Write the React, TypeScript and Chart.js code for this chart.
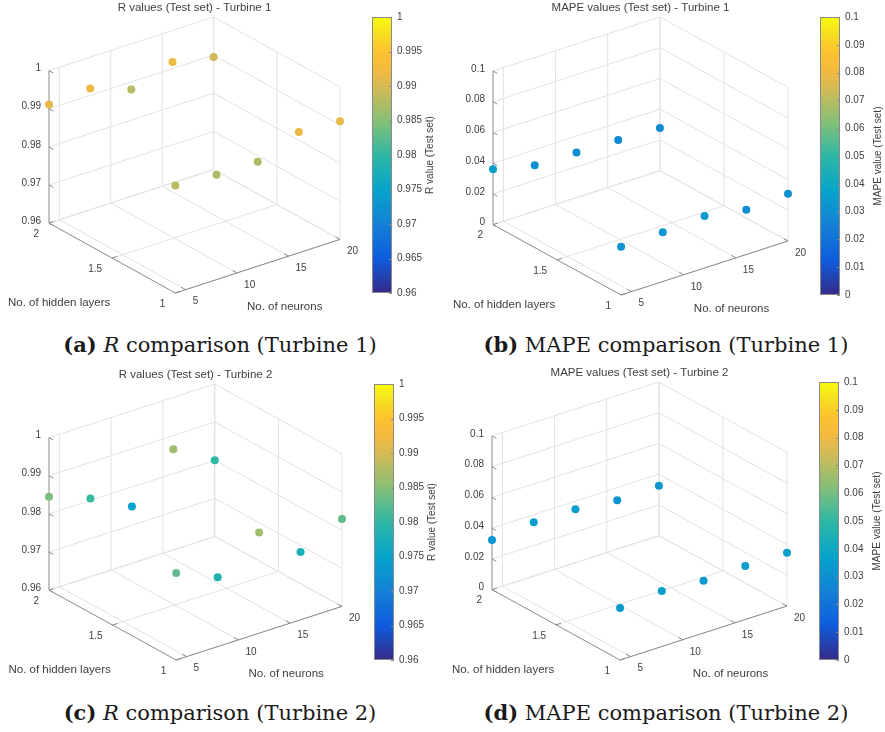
import React, { useEffect, useRef } from "react";
import { Chart, registerables } from "chart.js";

Chart.register(...registerables);

// Network configurations
const neurons = [4, 8, 12, 16, 20];
const hiddenLayers = [1, 2];

// Turbine 1 test-set results (one entry per neuron count)
const rT1OneLayer = [0.9882, 0.9875, 0.9874, 0.9917, 0.991];
const rT1TwoLayers = [0.9911, 0.9918, 0.988, 0.9917, 0.9895];
const mapeT1OneLayer = [0.0314, 0.0321, 0.0339, 0.0291, 0.0307];
const mapeT1TwoLayers = [0.0361, 0.0299, 0.0293, 0.0287, 0.0277];

// Turbine 2 test-set results
const rT2OneLayer = [0.9828, 0.9782, 0.9864, 0.9778, 0.9829];
const rT2TwoLayers = [0.9845, 0.9805, 0.9749, 0.9864, 0.98];
const mapeT2OneLayer = [0.0338, 0.0362, 0.034, 0.0348, 0.0347];
const mapeT2TwoLayers = [0.0323, 0.0351, 0.0348, 0.0318, 0.0324];

// Axis ranges and ticks
const neuronRange = [4, 20];
const layerRange = [1, 2];
const rRange = [0.96, 1];
const mapeRange = [0, 0.1];
const neuronTicks = [5, 10, 15, 20];
const layerTicks = [1, 1.5, 2];
const rTicks = [0.96, 0.97, 0.98, 0.99, 1];
const mapeTicks = [0, 0.02, 0.04, 0.06, 0.08, 0.1];
const rColorbarTicks = [0.96, 0.965, 0.97, 0.975, 0.98, 0.985, 0.99, 0.995, 1];
const mapeColorbarTicks = [0, 0.01, 0.02, 0.03, 0.04, 0.05, 0.06, 0.07, 0.08, 0.09, 0.1];

// parula colormap stops: [position, colour]
const parulaStops: [number, string][] = [
  [0, "#352a87"],
  [0.125, "#0f5cdd"],
  [0.25, "#1481d6"],
  [0.375, "#06a4ca"],
  [0.5, "#2eb7a4"],
  [0.625, "#87bf77"],
  [0.75, "#d7ba54"],
  [0.8125, "#f4ba3e"],
  [0.875, "#fdc230"],
  [0.9375, "#f5de20"],
  [1, "#f9fb0e"],
];

const SANS = '"Liberation Sans", Arial, sans-serif';
const TEXT = "#404040";
const GRID = "#e2e2e2";
const AXIS = "#8a8a8a";

const AZ = (37.5 * Math.PI) / 180;
const EL = (30 * Math.PI) / 180;
const U_MIN = -Math.sin(AZ);
const U_MAX = Math.cos(AZ);
const V_MAX = Math.sin(EL) * (Math.sin(AZ) + Math.cos(AZ)) + Math.cos(EL);

function hexToRgb(h: string) {
  return [1, 3, 5].map((i) => parseInt(h.slice(i, i + 2), 16));
}

function parula(t: number) {
  const c = Math.max(0, Math.min(1, t));
  let i = 0;
  while (i < parulaStops.length - 2 && c > parulaStops[i + 1][0]) i++;
  const [p0, c0] = parulaStops[i];
  const [p1, c1] = parulaStops[i + 1];
  const f = (c - p0) / (p1 - p0);
  const a = hexToRgb(c0);
  const b = hexToRgb(c1);
  const m = a.map((v, k) => Math.round(v + (b[k] - v) * f));
  return `rgb(${m[0]},${m[1]},${m[2]})`;
}

// Orthographic view (az -37.5, el 30) of the unit plot box
function project(n: number, l: number, z: number, zr: number[]) {
  const X = (n - neuronRange[0]) / (neuronRange[1] - neuronRange[0]);
  const Y = (l - layerRange[0]) / (layerRange[1] - layerRange[0]);
  const Z = (z - zr[0]) / (zr[1] - zr[0]);
  return {
    x: Math.cos(AZ) * X - Math.sin(AZ) * Y,
    y: Math.sin(EL) * (Math.sin(AZ) * X + Math.cos(AZ) * Y) + Math.cos(EL) * Z,
  };
}

function fmt(v: number) {
  return String(Number(v.toFixed(4)));
}

type PanelProps = {
  left: number;
  top: number;
  width: number;
  height: number;
  padding: { left: number; top: number; right: number; bottom: number };
  title: string;
  colorbarLabel: string;
  zRange: number[];
  zTicks: number[];
  cbTicks: number[];
  oneLayer: number[];
  twoLayers: number[];
};

function Panel3D(props: PanelProps) {
  const ref = useRef<HTMLCanvasElement | null>(null);

  useEffect(() => {
    const { zRange: zr, zTicks, cbTicks, title, colorbarLabel } = props;
    const pts: { x: number; y: number }[] = [];
    const colors: string[] = [];
    const series = [props.oneLayer, props.twoLayers];
    hiddenLayers.forEach((l, li) => {
      neurons.forEach((n, ni) => {
        const z = series[li][ni];
        pts.push(project(n, l, z, zr));
        colors.push(parula((z - zr[0]) / (zr[1] - zr[0])));
      });
    });

    const [nMin, nMax] = neuronRange;
    const [lMin, lMax] = layerRange;
    const [zMin, zMax] = zr;

    const boxPlugin = {
      id: "box3d",
      beforeDatasetsDraw(chart: any) {
        const { ctx } = chart;
        const xs = chart.scales.x;
        const ys = chart.scales.y;
        const P = (n: number, l: number, z: number) => {
          const p = project(n, l, z, zr);
          return [xs.getPixelForValue(p.x), ys.getPixelForValue(p.y)];
        };
        const line = (a: number[], b: number[]) => {
          ctx.beginPath();
          ctx.moveTo(a[0], a[1]);
          ctx.lineTo(b[0], b[1]);
          ctx.stroke();
        };
        ctx.save();
        ctx.lineWidth = 1;
        ctx.strokeStyle = GRID;
        // back wall at two hidden layers
        neuronTicks.forEach((t) => line(P(t, lMax, zMin), P(t, lMax, zMax)));
        zTicks.forEach((t) => line(P(nMin, lMax, t), P(nMax, lMax, t)));
        // back wall at max neurons
        layerTicks.forEach((t) => line(P(nMax, t, zMin), P(nMax, t, zMax)));
        zTicks.forEach((t) => line(P(nMax, lMin, t), P(nMax, lMax, t)));
        // floor
        neuronTicks.forEach((t) => line(P(t, lMin, zMin), P(t, lMax, zMin)));
        layerTicks.forEach((t) => line(P(nMin, t, zMin), P(nMax, t, zMin)));

        // axis lines
        ctx.strokeStyle = AXIS;
        line(P(nMin, lMax, zMin), P(nMin, lMax, zMax));
        line(P(nMin, lMin, zMin), P(nMin, lMax, zMin));
        line(P(nMin, lMin, zMin), P(nMax, lMin, zMin));

        const unit = (a: number[], b: number[]) => {
          const dx = b[0] - a[0];
          const dy = b[1] - a[1];
          const d = Math.hypot(dx, dy);
          return [dx / d, dy / d];
        };
        const TL = 5;
        const dirX = unit(P(nMin, lMin, zMin), P(nMax, lMin, zMin));
        const dirY = unit(P(nMin, lMin, zMin), P(nMin, lMax, zMin));
        zTicks.forEach((t) => {
          const p = P(nMin, lMax, t);
          line(p, [p[0] - dirY[0] * TL, p[1] - dirY[1] * TL]);
        });
        layerTicks.forEach((t) => {
          const p = P(nMin, t, zMin);
          line(p, [p[0] + dirX[0] * TL, p[1] + dirX[1] * TL]);
        });
        neuronTicks.forEach((t) => {
          const p = P(t, lMin, zMin);
          line(p, [p[0] + dirY[0] * TL, p[1] + dirY[1] * TL]);
        });
        ctx.restore();
      },
      afterDatasetsDraw(chart: any) {
        const { ctx, chartArea: ca } = chart;
        const xs = chart.scales.x;
        const ys = chart.scales.y;
        const cb = chart.scales.cbar;
        const P = (n: number, l: number, z: number) => {
          const p = project(n, l, z, zr);
          return [xs.getPixelForValue(p.x), ys.getPixelForValue(p.y)];
        };
        ctx.save();
        ctx.fillStyle = TEXT;
        ctx.textBaseline = "middle";

        // tick labels
        ctx.font = `10px ${SANS}`;
        ctx.textAlign = "right";
        zTicks.forEach((t) => {
          const p = P(nMin, lMax, t);
          ctx.fillText(fmt(t), p[0] - 8, p[1] - 2);
        });
        layerTicks.forEach((t) => {
          const p = P(nMin, t, zMin);
          ctx.fillText(fmt(t), p[0] - 10, p[1] + 11);
        });
        ctx.textAlign = "left";
        neuronTicks.forEach((t) => {
          const p = P(t, lMin, zMin);
          ctx.fillText(fmt(t), p[0] + 7, p[1] + 12);
        });

        // axis labels
        ctx.font = `11.5px ${SANS}`;
        ctx.textAlign = "center";
        const lm = P(nMin, (lMin + lMax) / 2, zMin);
        ctx.fillText("No. of hidden layers", lm[0] - 53, lm[1] + 45);
        const nm = P((nMin + nMax) / 2, lMin, zMin);
        ctx.fillText("No. of neurons", nm[0] + 27, nm[1] + 41);

        // title
        ctx.fillText(title, (ca.left + ca.right) / 2, ca.top - 9);

        // colorbar
        const cbL = ca.right + 32;
        const cbW = 20;
        const cbTop = cb.getPixelForValue(zMax);
        const cbBot = cb.getPixelForValue(zMin);
        const g = ctx.createLinearGradient(0, cbBot, 0, cbTop);
        parulaStops.forEach(([p, c]) => g.addColorStop(p, c));
        ctx.fillStyle = g;
        ctx.fillRect(cbL, cbTop, cbW, cbBot - cbTop);
        ctx.strokeStyle = AXIS;
        ctx.lineWidth = 1;
        ctx.strokeRect(cbL + 0.5, cbTop + 0.5, cbW - 1, cbBot - cbTop - 1);
        ctx.fillStyle = TEXT;
        ctx.font = `10px ${SANS}`;
        ctx.textAlign = "left";
        cbTicks.forEach((t) => {
          const y = cb.getPixelForValue(t);
          ctx.beginPath();
          ctx.moveTo(cbL + cbW - 3, Math.round(y) + 0.5);
          ctx.lineTo(cbL + cbW, Math.round(y) + 0.5);
          ctx.stroke();
          ctx.fillText(fmt(t), cbL + cbW + 5, y);
        });
        ctx.translate(cbL + cbW + 38, (cbTop + cbBot) / 2);
        ctx.rotate(-Math.PI / 2);
        ctx.textAlign = "center";
        ctx.fillText(colorbarLabel, 0, 0);
        ctx.restore();
      },
    };

    const chart = new Chart(ref.current as HTMLCanvasElement, {
      type: "scatter",
      data: {
        datasets: [
          {
            data: pts,
            pointBackgroundColor: colors,
            pointBorderWidth: 0,
            pointRadius: 4,
            pointHoverRadius: 4,
            clip: false,
          } as any,
        ],
      },
      options: {
        animation: false,
        responsive: false,
        maintainAspectRatio: false,
        events: [],
        layout: { padding: props.padding },
        plugins: { legend: { display: false }, tooltip: { enabled: false } },
        scales: {
          x: { type: "linear", min: U_MIN, max: U_MAX, display: false },
          y: { type: "linear", min: 0, max: V_MAX, display: false },
          cbar: { type: "linear", axis: "y", min: zr[0], max: zr[1], display: false },
        } as any,
      },
      plugins: [boxPlugin],
    });
    return () => chart.destroy();
  }, []);

  return (
    <canvas
      ref={ref}
      width={props.width}
      height={props.height}
      style={{ position: "absolute", left: props.left, top: props.top, width: props.width, height: props.height }}
    />
  );
}

function Caption(props: { left: number; top: number; width: number; tag: string; children: React.ReactNode }) {
  return (
    <div
      style={{
        position: "absolute",
        left: props.left,
        top: props.top,
        width: props.width,
        textAlign: "center",
        fontFamily: '"DejaVu Serif", serif',
        fontSize: 21,
        lineHeight: "26px",
        color: "#1a1a1a",
        whiteSpace: "nowrap",
      }}
    >
      <b>{props.tag}</b> {props.children}
    </div>
  );
}

export default function App() {
  return (
    <div style={{ position: "absolute", left: 0, top: 0, width: 885, height: 732, background: "#fff", overflow: "hidden" }}>
      <Panel3D
        left={0}
        top={0}
        width={440}
        height={320}
        padding={{ left: 49, top: 17, right: 100, bottom: 27 }}
        title="R values (Test set) - Turbine 1"
        colorbarLabel="R value (Test set)"
        zRange={rRange}
        zTicks={rTicks}
        cbTicks={rColorbarTicks}
        oneLayer={rT1OneLayer}
        twoLayers={rT1TwoLayers}
      />
      <Panel3D
        left={440}
        top={0}
        width={445}
        height={320}
        padding={{ left: 53, top: 17, right: 97, bottom: 25 }}
        title="MAPE values (Test set) - Turbine 1"
        colorbarLabel="MAPE value (Test set)"
        zRange={mapeRange}
        zTicks={mapeTicks}
        cbTicks={mapeColorbarTicks}
        oneLayer={mapeT1OneLayer}
        twoLayers={mapeT1TwoLayers}
      />
      <Panel3D
        left={0}
        top={362}
        width={440}
        height={325}
        padding={{ left: 49, top: 22, right: 98, bottom: 27 }}
        title="R values (Test set) - Turbine 2"
        colorbarLabel="R value (Test set)"
        zRange={rRange}
        zTicks={rTicks}
        cbTicks={rColorbarTicks}
        oneLayer={rT2OneLayer}
        twoLayers={rT2TwoLayers}
      />
      <Panel3D
        left={440}
        top={362}
        width={445}
        height={325}
        padding={{ left: 52, top: 20, right: 98, bottom: 27 }}
        title="MAPE values (Test set) - Turbine 2"
        colorbarLabel="MAPE value (Test set)"
        zRange={mapeRange}
        zTicks={mapeTicks}
        cbTicks={mapeColorbarTicks}
        oneLayer={mapeT2OneLayer}
        twoLayers={mapeT2TwoLayers}
      />
      <Caption left={0} top={332} width={440} tag="(a)">
        <i>R</i> comparison (Turbine 1)
      </Caption>
      <Caption left={440} top={332} width={452} tag="(b)">
        MAPE comparison (Turbine 1)
      </Caption>
      <Caption left={0} top={700} width={440} tag="(c)">
        <i>R</i> comparison (Turbine 2)
      </Caption>
      <Caption left={440} top={700} width={452} tag="(d)">
        MAPE comparison (Turbine 2)
      </Caption>
    </div>
  );
}
